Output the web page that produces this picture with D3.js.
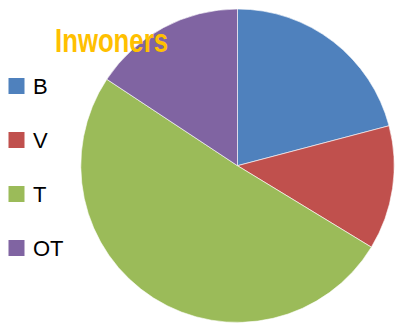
<!DOCTYPE html>
<html>
<head>
<meta charset="utf-8">
<script src="https://cdn.jsdelivr.net/npm/d3@7/dist/d3.min.js"></script>
<style>
  html, body { margin: 0; padding: 0; background: #fff; }
  svg { display: block; }
</style>
</head>
<body>
<script>
// Inhabitants share per group
const categories = ["B", "V", "T", "OT"];
const values = [20.9, 12.8, 50.6, 15.7];
const colors = ["#4F81BD", "#C0504D", "#9BBB59", "#8064A2"];
const title = "Inwoners";

const width = 395, height = 325;
const cx = 237.5, cy = 165.7, radius = 156.7;

const svg = d3.select("body").append("svg")
  .attr("width", width)
  .attr("height", height);

const color = d3.scaleOrdinal().domain(categories).range(colors);

const pie = d3.pie().sort(null).value(d => d.value);
const arc = d3.arc().innerRadius(0).outerRadius(radius);

const data = categories.map((c, i) => ({ name: c, value: values[i] }));

svg.append("g")
  .attr("transform", `translate(${cx},${cy})`)
  .selectAll("path")
  .data(pie(data))
  .join("path")
  .attr("d", arc)
  .attr("fill", d => color(d.data.name))
  .attr("stroke", "#ffffff")
  .attr("stroke-width", 0.6);

// Chart title
svg.append("text")
  .attr("x", 55)
  .attr("y", 52)
  .attr("textLength", 113)
  .attr("lengthAdjust", "spacingAndGlyphs")
  .attr("font-family", "'Liberation Sans Narrow', 'Liberation Sans', Arial, sans-serif")
  .attr("font-weight", "bold")
  .attr("font-size", 33)
  .attr("fill", "#FFC000")
  .text(title);

// Legend
const legendY = d3.scalePoint().domain(categories).range([86, 248]);

const legend = svg.append("g")
  .selectAll("g")
  .data(categories)
  .join("g")
  .attr("transform", d => `translate(0,${legendY(d)})`);

legend.append("rect")
  .attr("x", 8.5)
  .attr("y", -8)
  .attr("width", 16)
  .attr("height", 16)
  .attr("fill", d => color(d));

legend.append("text")
  .attr("x", 33)
  .attr("y", 7.8)
  .attr("font-family", "'Liberation Sans', Arial, sans-serif")
  .attr("font-size", 22)
  .attr("fill", "#000")
  .text(d => d);
</script>
</body>
</html>
